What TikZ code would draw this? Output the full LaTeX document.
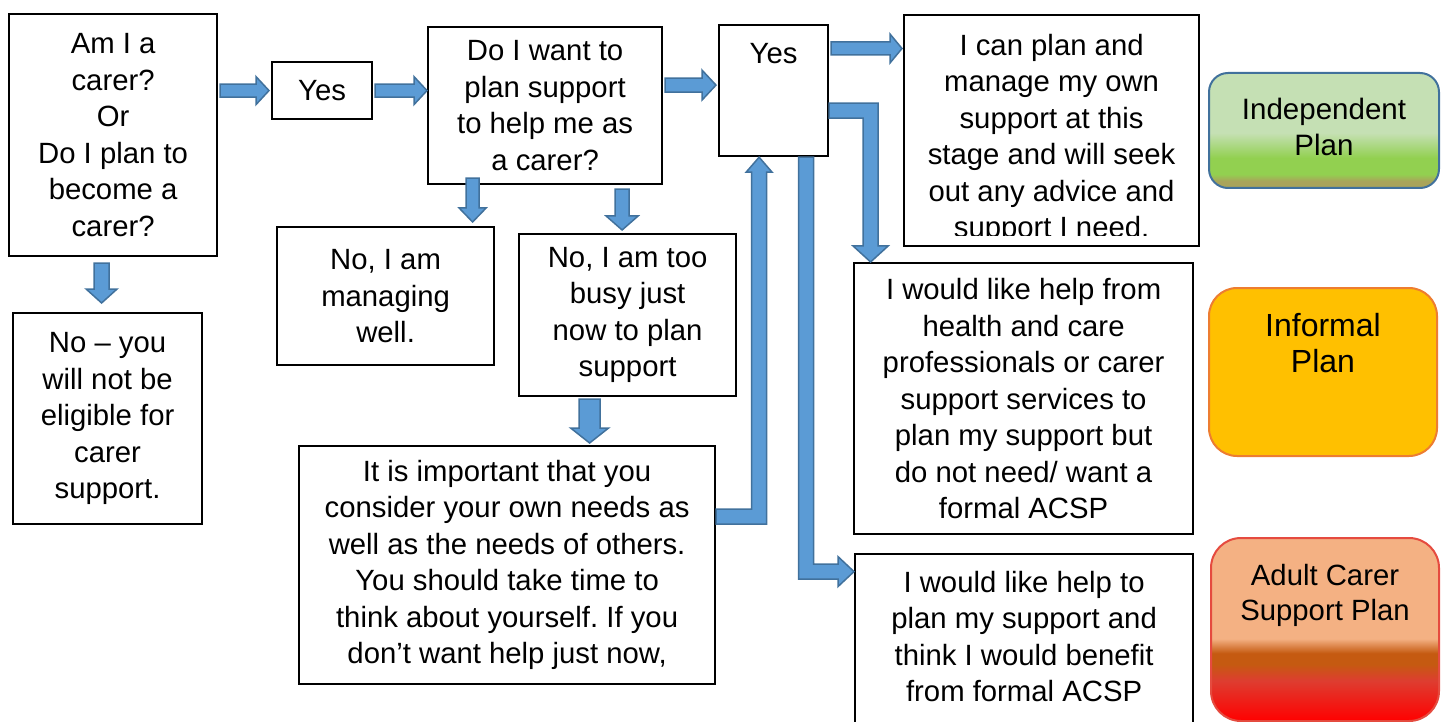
\documentclass[tikz,border=0pt]{standalone}
\usepackage{fontspec}
\setmainfont{Liberation Sans}
\usetikzlibrary{calc}
\frenchspacing
\definecolor{blkfill}{HTML}{5B9BD5}
\definecolor{blkdraw}{HTML}{41719C}
\definecolor{indL}{HTML}{C5E0B4}
\definecolor{indG}{HTML}{92D050}
\definecolor{indB}{HTML}{A9A45A}
\definecolor{infFill}{HTML}{FFC000}
\definecolor{infDraw}{HTML}{ED7D31}
\definecolor{acL}{HTML}{F4B183}
\definecolor{acO}{HTML}{C55A11}
\definecolor{acR}{HTML}{DE3D30}
\definecolor{acRR}{HTML}{FF0000}
\definecolor{acDraw}{HTML}{E54B3F}
\pgfdeclareverticalshading{indshade}{100bp}{color(0bp)=(indB); color(25bp)=(indB); color(28bp)=(indB); color(31bp)=(indG); color(38bp)=(indG); color(49bp)=(indL); color(100bp)=(indL)}
\pgfdeclareverticalshading{acshade}{100bp}{color(0bp)=(acRR); color(25bp)=(acRR); color(36bp)=(acR); color(40.5bp)=(acO); color(43.5bp)=(acO); color(47.5bp)=(acL); color(100bp)=(acL)}
\tikzset{
  box/.style={draw=black, line width=2.2pt, fill=white, align=center, inner sep=0pt,
    font=\fontsize{29.3}{36.5}\selectfont, anchor=north west},
  blk/.style={draw=blkdraw, fill=blkfill, line width=1.5pt, line join=miter},
  toplabel/.style={anchor=north, align=center, inner sep=0pt, font=\fontsize{29.3}{36.5}\selectfont},
  planbox/.style={line width=2pt, anchor=north west, inner sep=0pt}
}
% horizontal block arrow: x from #1, tip x and y from #2
\newcommand\blkR[5]{\draw[blk] let \p1=#1, \p2=#2 in
  (\x1+2pt,\y2+#3) -- (\x2-2pt-#5,\y2+#3) -- (\x2-2pt-#5,\y2+#4) -- (\x2-2pt,\y2)
  -- (\x2-2pt-#5,\y2-#4) -- (\x2-2pt-#5,\y2-#3) -- (\x1+2pt,\y2-#3) -- cycle;}
% downward block arrow: x and start y from #1, tip y from #2
\newcommand\blkD[5]{\draw[blk] let \p1=#1, \p2=#2 in
  (\x1-#3,\y1) -- (\x1-#3,\y2+#5) -- (\x1-#4,\y2+#5) -- (\x1,\y2)
  -- (\x1+#4,\y2+#5) -- (\x1+#3,\y2+#5) -- (\x1+#3,\y1) -- cycle;}
\begin{document}
\begin{tikzpicture}[x=1pt,y=-1pt]
\useasboundingbox (0,0) rectangle (1446,722);

\node[box, minimum width=208pt, minimum height=242pt] (A) at (8,13)
  {Am I a\\carer?\\Or\\Do I plan to\\become a\\carer?};
\node[box, minimum width=189pt, minimum height=211pt] (No) at (12,312)
  {No -- you\\will not be\\eligible for\\carer\\support.};
\node[box, minimum width=100pt, minimum height=57pt] (Yes1) at (271,61) {Yes};
\node[box, minimum width=234pt, minimum height=157pt] (Q2) at (427,26)
  {Do I want to\\plan support\\to help me as\\a carer?};
\node[box, minimum width=109pt, minimum height=131pt,
  label={[toplabel, yshift=-19pt]north:Yes}] (Yes2) at (718,24) {};
\begin{scope}
  \clip (898,8) rectangle (1204,236);
  \node[box, draw=none, minimum width=293pt, minimum height=229pt,
    label={[toplabel, yshift=-19pt]north:I can plan and\\manage my own\\support at this\\stage and will seek\\out any advice and\\support I need.}] (Ican) at (904,15) {};
\end{scope}
\draw[line width=2.2pt] (Ican.north west) rectangle (Ican.south east);
\node[box, minimum width=217pt, minimum height=138pt] (Man) at (276,226)
  {No, I am\\managing\\well.};
\node[box, minimum width=217pt, minimum height=162pt] (Busy) at (518,233)
  {No, I am too\\busy just\\now to plan\\support};
\node[box, minimum width=416pt, minimum height=238pt] (Imp) at (298,445)
  {It is important that you\\consider your own needs as\\well as the needs of others.\\You should take time to\\think about yourself. If you\\don’t want help just now,};
\node[box, minimum width=339pt, minimum height=271pt] (Health) at (853,262)
  {I would like help from\\health and care\\professionals or carer\\support services to\\plan my support but\\do not need/ want a\\formal ACSP};
\node[box, minimum width=338pt, minimum height=180pt,
  label={[toplabel, yshift=-18pt]north:I would like help to\\plan my support and\\think I would benefit\\from formal ACSP}] (Plan) at (854,553) {};

\node[planbox, minimum width=230pt, minimum height=115pt, rounded corners=19pt,
  draw=blkdraw, shade, shading=indshade,
  label={[toplabel, yshift=-26pt, font=\fontsize{29.5}{36}\selectfont]north:Independent\\Plan}] (Ind) at (1208,72) {};
\node[planbox, minimum width=228pt, minimum height=168pt, rounded corners=28pt,
  draw=infDraw, fill=infFill,
  label={[toplabel, yshift=-26pt, font=\fontsize{32}{36}\selectfont]north:Informal\\Plan}] (Inf) at (1208,287) {};
\node[planbox, minimum width=228pt, minimum height=183pt, rounded corners=30pt,
  draw=acDraw, shade, shading=acshade,
  label={[toplabel, yshift=-27pt, font=\fontsize{29.3}{35}\selectfont]north:Adult Carer\\Support Plan}] (Acsp) at (1210,537) {};

% straight block arrows
\blkR{(A.east)}{(Yes1.west)}{6.5pt}{14pt}{13pt}
\blkR{(Yes1.east)}{([yshift=15pt,xshift=2pt]Q2.west)}{6.5pt}{14pt}{13pt}
\blkR{(Q2.east)}{([yshift=5.5pt]Yes2.west)}{7pt}{15pt}{14pt}
\blkR{(Yes2.east)}{([yshift=-33.5pt]Ican.north west)}{6.5pt}{14.5pt}{12pt}
\blkD{([xshift=-11.5pt,yshift=-6pt]A.south)}{([yshift=9pt]No.north)}{7.5pt}{15.5pt}{14pt}
\blkD{([xshift=-72.5pt,yshift=7pt]Q2.south)}{([yshift=4pt]Man.north)}{6.5pt}{13.5pt}{14pt}
\blkD{([xshift=77pt,yshift=-4pt]Q2.south)}{([yshift=3pt]Busy.north)}{7pt}{16pt}{14pt}
\blkD{([xshift=-38pt,yshift=-2pt]Busy.south)}{([yshift=2pt]Imp.north)}{10.5pt}{19pt}{15pt}

% bent block arrows
\draw[blk] let \p1=([yshift=48.5pt]Imp.east), \p2=([xshift=-14.5pt]Yes2.south) in
  (\x1,\y1+7.5pt) -- (\x2-7.5pt,\y1+7.5pt) -- (\x2-7.5pt,\y2-15pt) -- (\x2-13pt,\y2-15pt)
  -- (\x2,\y2) -- (\x2+13pt,\y2-15pt) -- (\x2+7.5pt,\y2-15pt) -- (\x2+7.5pt,\y1-7.5pt)
  -- (\x1,\y1-7.5pt) -- cycle;
\draw[blk] let \p1=([yshift=-20pt]Yes2.east), \p2=([xshift=-153pt]Health.north) in
  (\x1,\y1+7.5pt) -- (\x2+7.5pt,\y1+7.5pt) -- (\x2+7.5pt,\y2+16pt) -- (\x2+17.5pt,\y2+16pt)
  -- (\x2,\y2) -- (\x2-17.5pt,\y2+16pt) -- (\x2-7.5pt,\y2+16pt) -- (\x2-7.5pt,\y1-7.5pt)
  -- (\x1,\y1-7.5pt) -- cycle;
\draw[blk] let \p1=([xshift=32.5pt]Yes2.south), \p2=([yshift=72.5pt]Plan.west) in
  (\x1-7.5pt,\y1) -- (\x1-7.5pt,\y2-7.5pt) -- (\x2-16pt,\y2-7.5pt) -- (\x2-16pt,\y2-15pt)
  -- (\x2,\y2) -- (\x2-16pt,\y2+15pt) -- (\x2-16pt,\y2+7.5pt) -- (\x1+7.5pt,\y2+7.5pt)
  -- (\x1+7.5pt,\y1) -- cycle;
\end{tikzpicture}
\end{document}
